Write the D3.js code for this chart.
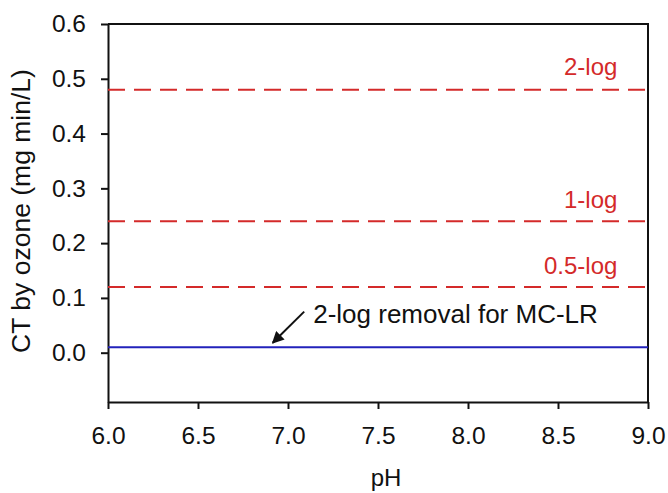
<!DOCTYPE html>
<html>
<head>
<meta charset="utf-8">
<script src="https://cdn.jsdelivr.net/npm/d3@7"></script>
<style>
  body { margin: 0; background: #fff; }
  svg { font-family: "Liberation Sans", Arial, sans-serif; }
</style>
</head>
<body>
<svg id="chart" width="668" height="493"></svg>
<script>
(function () {
    // chart data
    const xTicks = [6.0, 6.5, 7.0, 7.5, 8.0, 8.5, 9.0];
    const yTicks = [0.0, 0.1, 0.2, 0.3, 0.4, 0.5, 0.6];
    const ctLevels = [0.48, 0.24, 0.12];             // ozone CT, red dashed
    const ctLabels = ["2-log", "1-log", "0.5-log"];
    const mcLevel = 0.01;                            // MC-LR, blue line
    const mcLabel = "2-log removal for MC-LR";

    const margin = { top: 24, right: 20, bottom: 91, left: 108 };
    const width = 668 - margin.left - margin.right;
    const height = 493 - margin.top - margin.bottom;

    const x = d3.scaleLinear().domain([6, 9]).range([0, width]);
    const y = d3.scaleLinear().domain([-0.09, 0.6]).range([height, 0]);

    const svg = d3.select("#chart")
        .append("g")
        .attr("transform", `translate(${margin.left},${margin.top})`);

    //axes
    const xAxis = svg.append("g")
        .attr("transform", `translate(0,${height})`)
        .call(d3.axisBottom(x).tickValues(xTicks).tickFormat(d3.format(".1f"))
            .tickSize(7).tickPadding(18).tickSizeOuter(0));

    const yAxis = svg.append("g")
        .call(d3.axisLeft(y).tickValues(yTicks).tickFormat(d3.format(".1f"))
            .tickSize(7).tickPadding(15).tickSizeOuter(0));

    [xAxis, yAxis].forEach(a => {
        a.selectAll("text").attr("font-size", 24.5).attr("fill", "#111").attr("font-family", null);
        a.selectAll("line").attr("stroke", "#111").attr("stroke-width", 2);
        a.select(".domain").attr("stroke", "#111").attr("stroke-width", 2);
    });

    // top and right frame
    svg.append("path")
        .attr("d", `M0,0H${width}V${height}`)
        .attr("fill", "none")
        .attr("stroke", "#111")
        .attr("stroke-width", 2);

    //red dashed levels
    svg.selectAll("line.ct")
        .data(ctLevels)
        .join("line")
        .attr("class", "ct")
        .attr("x1", x(6)).attr("x2", x(9))
        .attr("y1", d => y(d)).attr("y2", d => y(d))
        .attr("stroke", "#d42a2a")
        .attr("stroke-width", 2)
        .attr("stroke-dasharray", "17,9");

    svg.selectAll("text.ct")
        .data(ctLevels)
        .join("text")
        .attr("class", "ct")
        .attr("x", x(8.83))
        .attr("y", (d, i) => y(d) - (i === 0 ? 15 : 13))
        .attr("text-anchor", "end")
        .attr("font-size", 24)
        .attr("fill", "#d42a2a")
        .text((d, i) => ctLabels[i]);

    // blue line
    svg.append("line")
        .attr("x1", x(6)).attr("x2", x(9))
        .attr("y1", y(mcLevel)).attr("y2", y(mcLevel))
        .attr("stroke", "#2222bb")
        .attr("stroke-width", 2);

    // arrow + annotation
    svg.append("defs").append("marker")
        .attr("id", "arrow")
        .attr("viewBox", "0 0 10 10")
        .attr("refX", 9).attr("refY", 5)
        .attr("markerWidth", 6).attr("markerHeight", 6)
        .attr("orient", "auto")
        .append("path")
        .attr("d", "M0,0L10,5L0,10z")
        .attr("fill", "#111");

    svg.append("line")
        .attr("x1", x(7.09)).attr("y1", y(0.075))
        .attr("x2", x(6.915)).attr("y2", y(0.018))
        .attr("stroke", "#111")
        .attr("stroke-width", 2)
        .attr("marker-end", "url(#arrow)");

    svg.append("text")
        .attr("x", x(7.14))
        .attr("y", y(0.055))
        .attr("font-size", 26)
        .attr("fill", "#111")
        .text(mcLabel);

    //axis titles
    svg.append("text")
        .attr("x", width / 2 + 8)
        .attr("y", height + 84)
        .attr("text-anchor", "middle")
        .attr("font-size", 24)
        .attr("fill", "#111")
        .text("pH");

    svg.append("text")
        .attr("transform", `translate(${-78},${height / 2 - 2}) rotate(-90)`)
        .attr("text-anchor", "middle")
        .attr("font-size", 26.5)
        .attr("fill", "#111")
        .text("CT by ozone (mg min/L)");
})();
</script>
</body>
</html>
